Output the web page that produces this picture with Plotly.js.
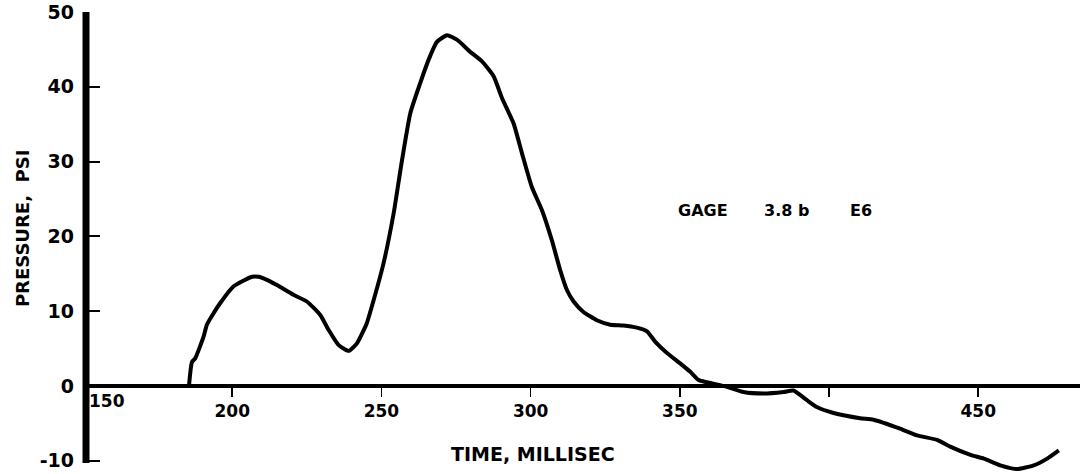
<!DOCTYPE html>
<html>
<head>
<meta charset="utf-8">
<script src="https://cdn.plot.ly/plotly-3.0.1.min.js"></script>
<style>
  html, body { margin: 0; padding: 0; background: #ffffff; }
  #chart { width: 1080px; height: 474px; }
</style>
</head>
<body>
<div id="chart"></div>
<script>
// Time (millisec) and pressure (psi)
const timeMs = [185.5, 186.5, 187.6, 190.4, 191.5, 193.7, 196.0, 200.4, 206.6, 208.8,
  211.6, 215.0, 220.5, 225.0, 229.5, 232.3, 235.6, 239.0, 241.8, 245.1,
  247.4, 250.7, 254.1, 256.9, 259.7, 263.0, 265.8, 268.6, 272.0, 275.3,
  279.7, 283.7, 287.6, 290.4, 294.3, 297.1, 300.4, 303.8, 307.1, 309.9,
  312.2, 314.4, 317.7, 322.2, 326.7, 331.1, 335.6, 339.0, 341.8, 345.7,
  350.2, 353.5, 356.3, 359.1, 365.8, 371.3, 378.0, 384.8, 388.1, 392.6,
  395.9, 401.5, 410.4, 414.9, 423.8, 429.5, 436.2, 440.6, 447.4, 451.9,
  457.4, 463.0, 468.6, 473.1, 477.0];
const pressurePsi = [0.0, 3.2, 3.7, 6.6, 8.2, 9.7, 11.1, 13.3, 14.6, 14.6,
  14.2, 13.5, 12.2, 11.3, 9.5, 7.5, 5.5, 4.7, 5.7, 8.4,
  11.5, 16.4, 23.1, 30.2, 36.5, 40.5, 43.6, 46.0, 46.9, 46.3,
  44.7, 43.4, 41.4, 38.5, 35.1, 31.1, 26.6, 23.5, 19.5, 15.5,
  12.8, 11.3, 9.9, 8.8, 8.2, 8.1, 7.8, 7.3, 5.9, 4.4,
  3.0, 1.9, 0.8, 0.5, -0.1, -0.8, -1.0, -0.8, -0.6, -1.9,
  -2.8, -3.6, -4.3, -4.5, -5.7, -6.6, -7.2, -8.1, -9.2, -9.7,
  -10.6, -11.1, -10.6, -9.7, -8.6];

// Axis ticks
const xTickVals = [200, 250, 300, 350, 400, 450];
const xTickText = ["200", "250", "300", "350", "", "450"];
const xOriginLabel = "150";
const yTickVals = [-10, 0, 10, 20, 30, 40, 50];
const yTickText = ["-10", "0", "10", "20", "30", "40", "50"];

// Texts
const xTitle = "TIME, MILLISEC";
const yTitle = "PRESSURE,&nbsp;&nbsp;PSI";
const gageWords = ["GAGE", "3.8 b", "E6"];
const gageX = [348.7, 377.5, 406.4];
const gageY = 23.5;

const xRange = [151, 484.1];
const yRange = [-11.76, 50];
const FONT = "DejaVu Sans, Liberation Sans, Arial, sans-serif";
const zeroFrac = (0 - yRange[0]) / (yRange[1] - yRange[0]);

const trace = {
  x: timeMs,
  y: pressurePsi,
  type: "scatter",
  mode: "lines",
  line: { color: "#000000", width: 4, shape: "spline", smoothing: 0.5 },
  hoverinfo: "skip",
  showlegend: false
};

const annotations = [
  {
    text: xOriginLabel, xref: "x", yref: "y", x: xRange[0], y: 0,
    xanchor: "left", yanchor: "top", xshift: 1, yshift: -3, showarrow: false,
    font: { family: FONT, size: 17, weight: "bold", color: "#000000" }
  },
  {
    text: xTitle, xref: "paper", yref: "paper", x: 0.4493, y: 0.0433,
    xanchor: "center", yanchor: "middle", showarrow: false,
    font: { family: FONT, size: 19, weight: "bold", color: "#000000" }
  },
  {
    text: yTitle, xref: "paper", yref: "paper", x: -0.0645, y: 0.532,
    xanchor: "center", yanchor: "middle", textangle: -90, showarrow: false,
    font: { family: FONT, size: 18, weight: "bold", color: "#000000" }
  }
];
gageWords.forEach(function (w, i) {
  annotations.push({
    text: w, xref: "x", yref: "y", x: gageX[i], y: gageY,
    xanchor: "left", yanchor: "middle", showarrow: false,
    font: { family: FONT, size: 16, weight: "bold", color: "#000000" }
  });
});

const layout = {
  width: 1080,
  height: 474,
  margin: { l: 86, r: 0, t: 12, b: 0, pad: 0 },
  paper_bgcolor: "#ffffff",
  plot_bgcolor: "#ffffff",
  showlegend: false,
  font: { family: FONT, color: "#000000" },
  xaxis: {
    range: xRange,
    anchor: "free",
    position: zeroFrac,
    showline: true,
    linecolor: "#000000",
    linewidth: 4,
    showgrid: false,
    zeroline: false,
    ticks: "outside",
    ticklen: 9,
    tickwidth: 1.5,
    tickcolor: "#000000",
    tickvals: xTickVals,
    ticktext: xTickText,
    tickfont: { family: FONT, size: 17, weight: "bold", color: "#000000" },
    automargin: false,
    fixedrange: true
  },
  yaxis: {
    range: yRange,
    showline: false,
    showgrid: false,
    zeroline: false,
    ticks: "inside",
    ticklen: 14,
    tickwidth: 2,
    tickcolor: "#000000",
    tickvals: yTickVals,
    ticktext: yTickText,
    tickfont: { family: FONT, size: 19, weight: "bold", color: "#000000" },
    ticklabelstandoff: 11,
    automargin: false,
    fixedrange: true
  },
  shapes: [
    {
      type: "line", xref: "paper", yref: "y",
      x0: 0, x1: 0, y0: -10.3, y1: 50,
      line: { color: "#000000", width: 7 },
      layer: "above"
    }
  ],
  annotations: annotations
};

Plotly.newPlot("chart", [trace], layout, { displayModeBar: false, staticPlot: true });
</script>
</body>
</html>
